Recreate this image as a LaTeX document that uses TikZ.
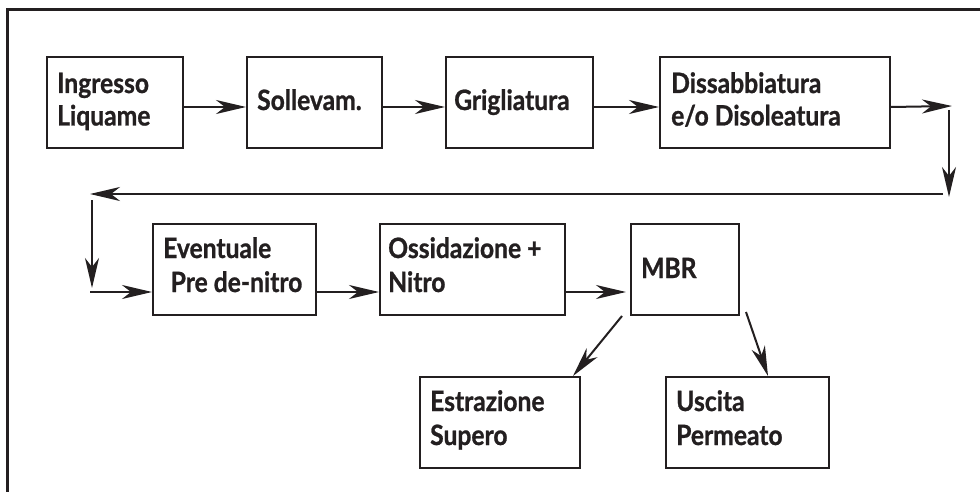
\documentclass[tikz,border=0pt]{standalone}
\usepackage{fontspec}
\newfontfamily\boxfont{Lato}[FakeStretch=0.88, BoldFeatures={FakeBold=0.9}]
\usetikzlibrary{arrows.meta}
\definecolor{ink}{RGB}{35,31,32}
\tikzset{
  stage/.style={draw=ink, line width=2pt, anchor=north west, inner sep=0pt,
    minimum height=91pt},
  lbl/.style={anchor=base west, inner sep=0pt, text=ink,
    font=\boxfont\bfseries\fontsize{28}{33}\selectfont},
  arr/.style={draw=ink, line width=2pt,
    -{Stealth[length=30pt,width=14pt,inset=9pt]}},
  frame/.style={draw=ink, line width=3pt}
}
\begin{document}
\begin{tikzpicture}[x=1pt,y=-1pt]
\useasboundingbox (0,0) rectangle (980,492);
\fill[white] (0,0) rectangle (980,492);
% outer frame (open to the right and bottom)
\draw[frame] (7,492) -- (7,10) -- (980,10);

% first row of stages
\node[stage, minimum width=136pt] (ing) at (46,56) {};
\node[stage, minimum width=135pt] (sol) at (246,56) {};
\node[stage, minimum width=147pt] (gri) at (445,56) {};
\node[stage, minimum width=230pt] (dis) at (659,56) {};
% second row
\node[stage, minimum width=163pt] (pre) at (152,223) {};
\node[stage, minimum width=185pt] (oss) at (379,223) {};
\node[stage, minimum width=108pt] (mbr) at (630,223) {};
% outputs
\node[stage, minimum width=160pt] (est) at (419,376) {};
\node[stage, minimum width=163pt] (usc) at (665,376) {};

% labels
\node[lbl] (t1a) at (57,93) {Ingresso};
\node[lbl] (t1b) at (57,125.5) {Liquame};
\node[lbl] (t2) at (257,110) {Sollevam.};
\node[lbl] (t3) at (454,110) {Grigliatura};
\node[lbl] (t4a) at (671,93) {Dissabbiatura};
\node[lbl] (t4b) at (671,125.5) {e/o Disoleatura};
\node[lbl] (t5a) at (163,258) {Eventuale};
\node[lbl] (t5b) at (170.5,292) {Pre de-nitro};
\node[lbl] (t6a) at (388,258) {Ossidazione +};
\node[lbl] (t6b) at (388,292) {Nitro};
\node[lbl] (t7) at (641,278) {MBR};
\node[lbl] (t8a) at (430,411) {Estrazione};
\node[lbl] (t8b) at (430,445) {Supero};
\node[lbl] (t9a) at (676,411) {Uscita};
\node[lbl] (t9b) at (676,445) {Permeato};

% loose ends of the return line
\coordinate (r0) at (952,106);
\coordinate (r1) at (949,110);
\coordinate (r2) at (949,197);
\coordinate (r3) at (943,194);
\coordinate (r4) at (90,194);
\coordinate (r5) at (92,200);
\coordinate (r6) at (92,288);
\coordinate (r7) at (90,292);
\coordinate (m1) at (622,316);
\coordinate (m2) at (746,312);

% connectors
\draw[arr] ([yshift=-4.5pt]ing.east) -- ([yshift=-4.5pt]sol.west);
\draw[arr] ([yshift=-4.5pt]sol.east) -- ([yshift=-4.5pt]gri.west);
\draw[arr] ([yshift=-4.5pt]gri.east) -- ([yshift=-4.5pt]dis.west);
\draw[arr] ([yshift=-4.5pt]dis.east) -- (r0);
\draw[arr] (r1) -- (r2);
\draw[arr] (r3) -- (r4);
\draw[arr] (r5) -- (r6);
\draw[arr] (r7) -- ([yshift=-22.5pt]pre.west);
\draw[arr] ([yshift=-22.5pt]pre.east) -- ([yshift=-22.5pt]oss.west);
\draw[arr] ([yshift=-22.5pt]oss.east) -- ([xshift=-4pt,yshift=-22.5pt]mbr.west);
\draw[arr] (m1) -- ([xshift=-8pt]est.north east);
\draw[arr] (m2) -- ([xshift=-62pt]usc.north east);
\end{tikzpicture}
\end{document}
